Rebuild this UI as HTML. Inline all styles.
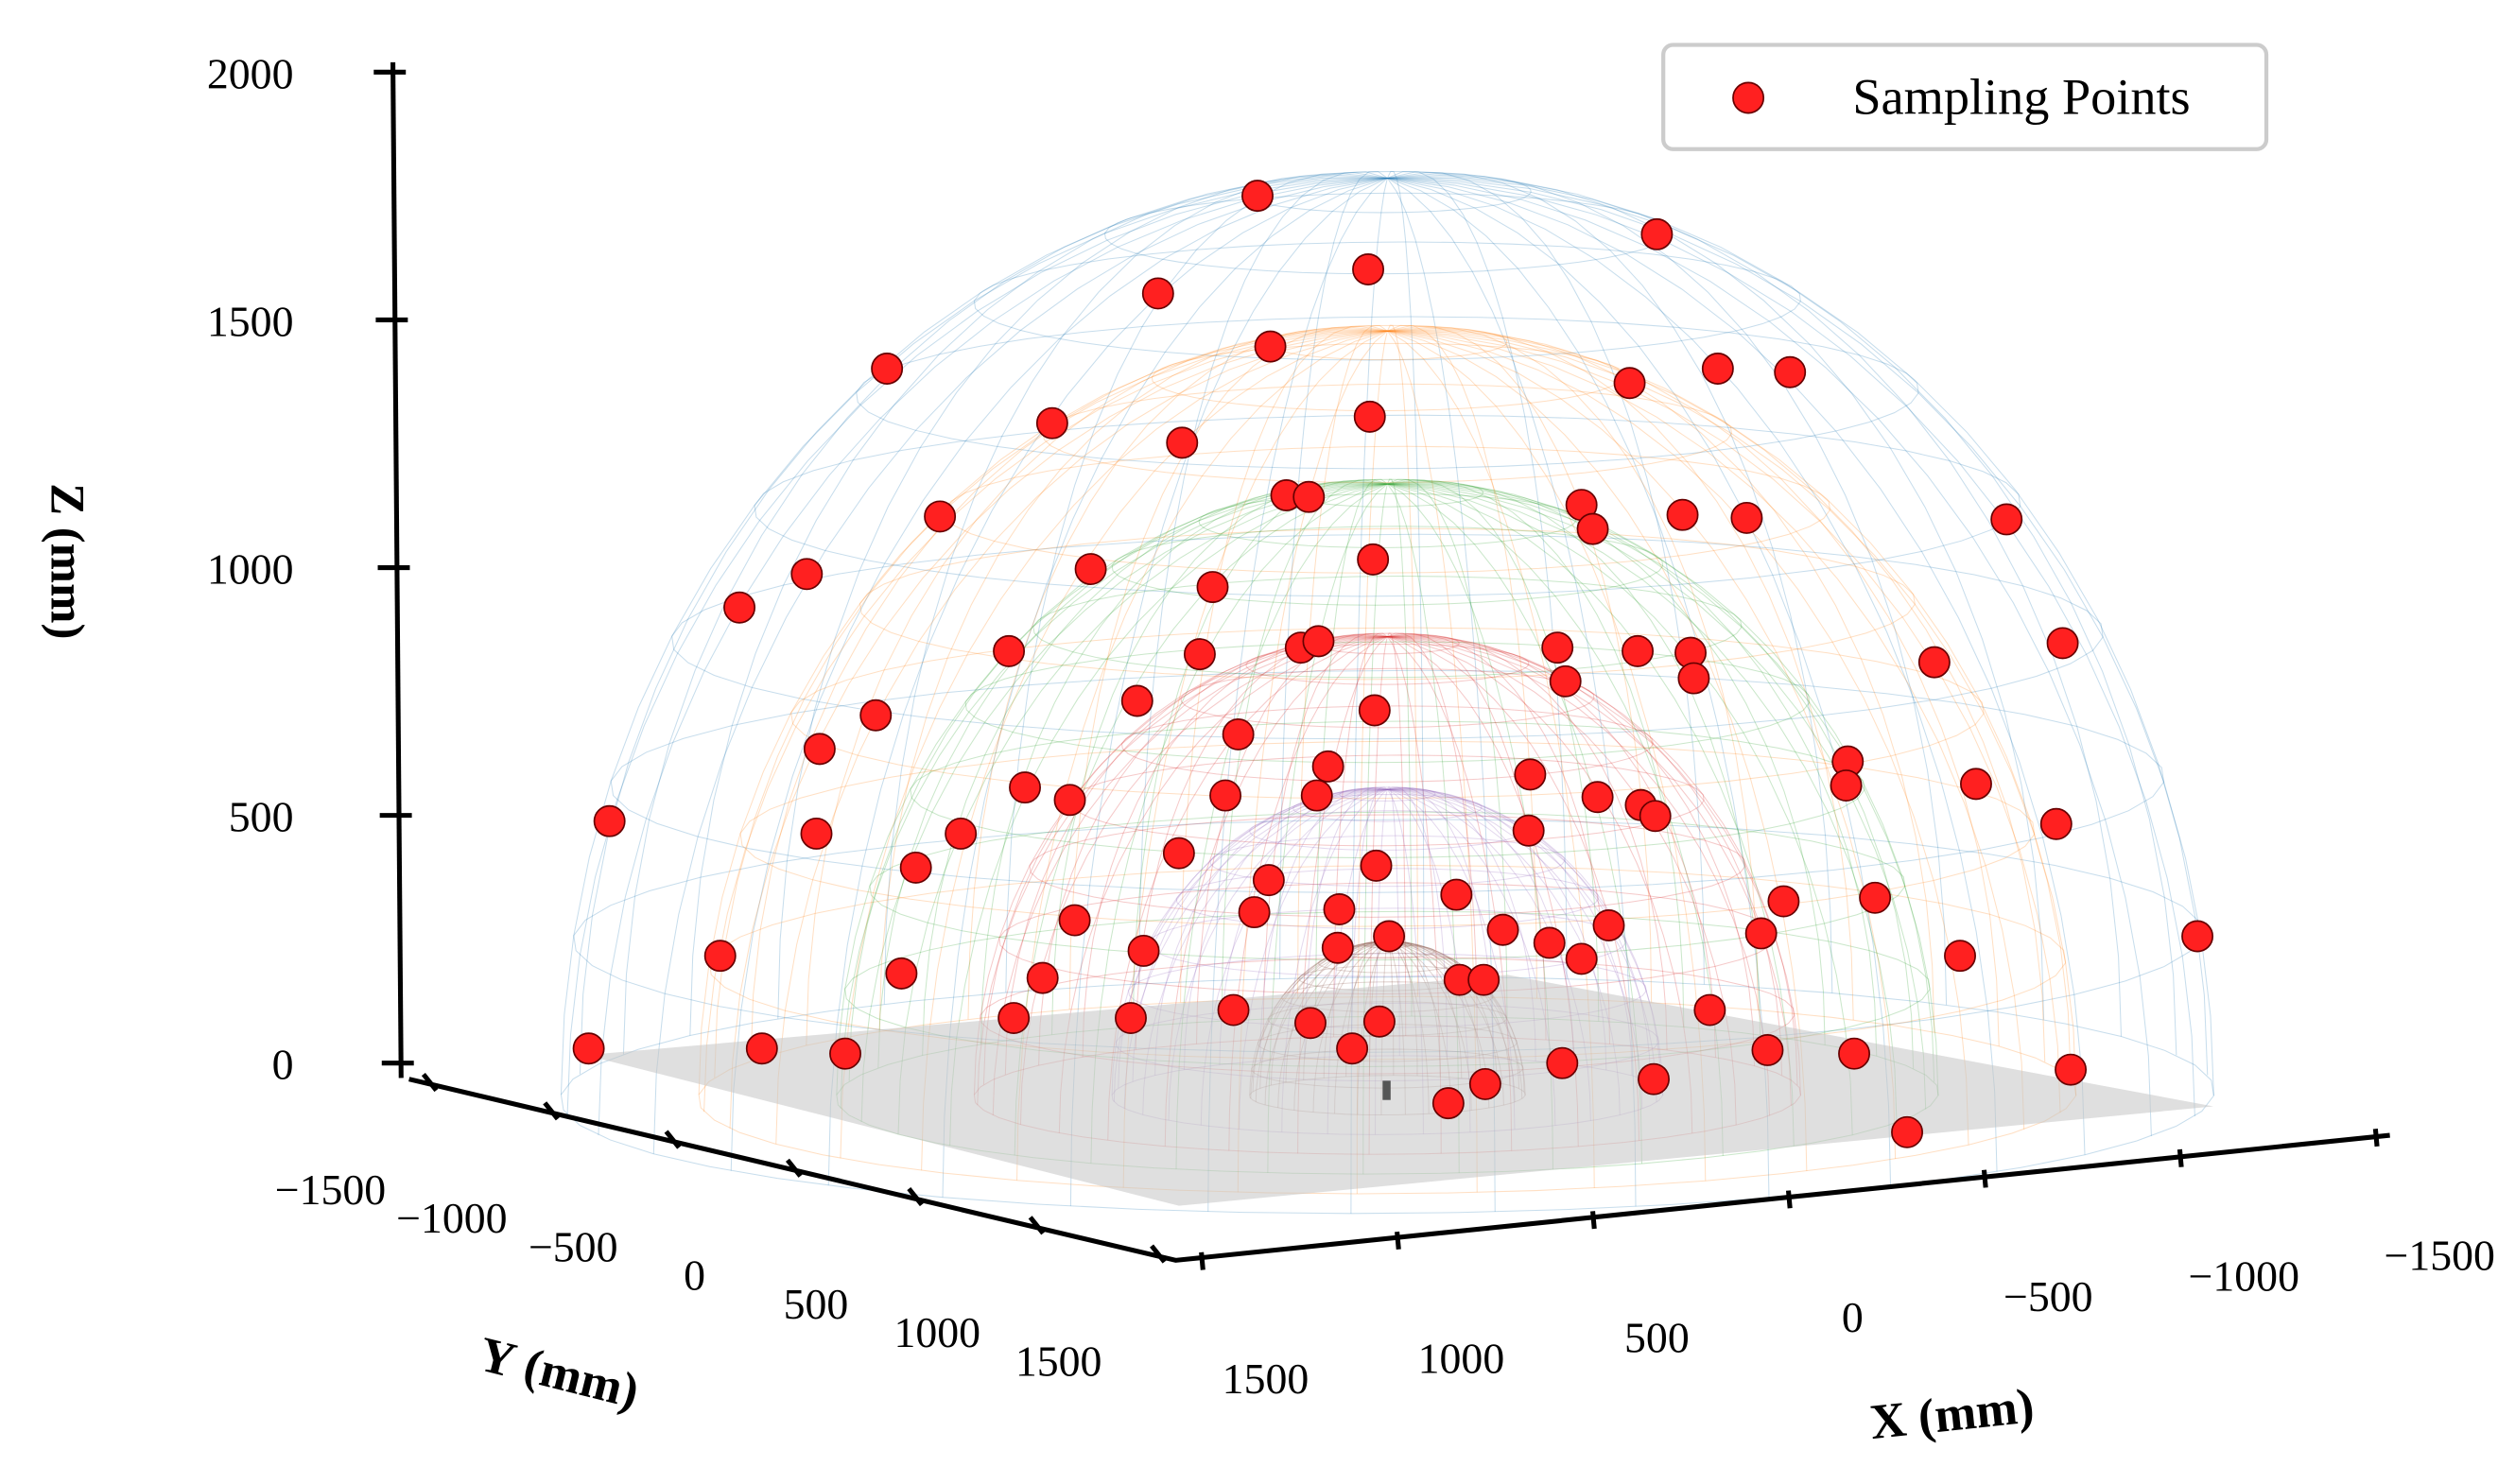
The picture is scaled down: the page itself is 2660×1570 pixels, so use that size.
<!DOCTYPE html>
<html><head><meta charset="utf-8"><style>
html,body{margin:0;padding:0;background:#fff;}
svg{display:block;font-family:"Liberation Serif",serif;}
</style></head><body>
<svg id="chart" width="2660" height="1570" viewBox="0 0 1568 925.5" xmlns="http://www.w3.org/2000/svg">
<g id="wire"></g>
<polygon points="365,658 940,608 1380,690 735,752" fill="#c4c4c4" fill-opacity="0.55"/>
<rect x="862" y="674" width="5" height="12" fill="#555"/>
<g id="axes"></g>
<g id="pts"></g>
<g>
<rect x="1037" y="28" width="376" height="65" rx="6" fill="#fff" fill-opacity="0.85" stroke="#ccc" stroke-width="2.5"/>
<circle cx="1090" cy="61" r="9.5" fill="#ff2020" stroke="#600" stroke-width="1"/>
<text x="1155" y="71" font-size="32">Sampling Points</text>
</g>
<text transform="translate(32,350) rotate(90)" text-anchor="middle" font-size="30" font-weight="bold">Z (mm)</text>
<text transform="translate(346,866) rotate(14)" text-anchor="middle" font-size="31" font-weight="bold">Y (mm)</text>
<text transform="translate(1218,892) rotate(-6)" text-anchor="middle" font-size="31" font-weight="bold">X (mm)</text>
</svg>
<script>
const ptX = [324,-672,48,572,292,1248,-604,-824,-1004,836,44,512,1116,252,196,-484,-512,-736,-896,-1544,1448,740,36,1616,436,944,468,216,172,-424,-624,-756,-764,-444,-1364,-1684,624,32,1276,372,1416,148,-1148,-1144,904,792,404,176,-356,-524,-632,-668,-1468,1940,1424,1064,-352,-1668,520,1176,28,296,-172,-988,-1216,332,120,780,-288,-552,-932,-2020,-4,124,-404,608,-484,1664,1212,860,-180,-240,-1428,-804,384,932,640,192,20,1992,1560,1352,88,-948,-1164,-436,-664,-1704,-244,-152,-1296];
const ptZ = [1795,1718,1648,1600,1494,1450,1421,1450,1443,1341,1354,1302,1155,1197,1194,1178,1130,1158,1152,1149,1040,1050,1069,973,1014,886,880,893,906,893,886,883,832,826,864,902,787,768,758,720,691,656,666,618,614,589,598,598,640,595,579,557,621,547,522,522,528,541,483,454,458,429,400,387,394,365,371,349,330,339,323,317,317,294,304,288,272,278,243,234,230,230,278,170,170,154,154,144,147,93,93,83,93,90,83,64,32,51,22,-16,-74];
const zTicks = [0,500,1000,1500,2000];
const yTicks = [-1500,-1000,-500,0,500,1000,1500];
const xTicks = [1500,1000,500,0,-500,-1000,-1500];
const radii = [1830,1525,1220,915,610,305];
const colors = ['#1f77b4','#ff7f0e','#2ca02c','#d62728','#9467bd','#8c564b'];

const NS='http://www.w3.org/2000/svg';
function mk(tag,attrs,parent){const e=document.createElementNS(NS,tag);for(const k in attrs)e.setAttribute(k,attrs[k]);parent.appendChild(e);return e;}
function P(x,y,z){return [865 - x*0.25 + y*0.13, 683 + x*0.02 + y*0.035 - z*0.3125];}
function ptPos(x,z){return [865 - x*0.25, 683 - z*0.3125];}
function zPos(v){return [250 - v*0.0025, 663 - v*0.309];}
function yPos(v){const t=(v+1500)/3000;return [268 + t*(722-268), 676 + t*(783-676)];}
function xPos(v){const t=(1500-v)/3000;return [749 + t*(1481-749), 786 + t*(709-786)];}

const wire=document.getElementById('wire');
radii.forEach((R,i)=>{
  const g=mk('g',{stroke:colors[i],'stroke-width':0.6,'stroke-opacity':0.25,fill:'none'},wire);
  
  
  for(let a=0;a<36;a++){const th=a*Math.PI/18;let d='';
    for(let e=0;e<=18;e++){const ph=e*Math.PI/36;const p=P(R*Math.cos(ph)*Math.cos(th),R*Math.cos(ph)*Math.sin(th),R*Math.sin(ph));d+=(e?'L':'M')+p[0].toFixed(1)+','+p[1].toFixed(1);}
    const m=mk('path',{d:d},g);
    
    }
  for(let e=0;e<9;e++){const ph=e*Math.PI/18;let d='';
    for(let a=0;a<=48;a++){const th=a*Math.PI/24;const p=P(R*Math.cos(ph)*Math.cos(th),R*Math.cos(ph)*Math.sin(th),R*Math.sin(ph));d+=(a?'L':'M')+p[0].toFixed(1)+','+p[1].toFixed(1);}
    const m=mk('path',{d:d},g);
    
    }
});

const axes=document.getElementById('axes');
const st={stroke:'#000','stroke-width':3,fill:'none'};
let l=mk('line',Object.assign({x1:zPos(-30)[0],y1:zPos(-30)[1],x2:zPos(2020)[0],y2:zPos(2020)[1]},st),axes);


l=mk('polyline',Object.assign({points:'255,673 733,786 1490,708'},st),axes);


zTicks.forEach(v=>{const p=zPos(v);
  const t=mk('line',{x1:p[0]-12,y1:p[1],x2:p[0]+8,y2:p[1],stroke:'#000','stroke-width':3},axes);
  
  
  const tx=mk('text',{x:183,y:p[1]+10,'text-anchor':'end','font-size':27},axes);tx.textContent=v;
  
  });
yTicks.forEach((v,i)=>{const p=yPos(v);
  const t=mk('line',{x1:p[0]-4,y1:p[1]-6,x2:p[0]+4,y2:p[1]+4,stroke:'#000','stroke-width':3},axes);
  
  
  const tx=mk('text',{x:p[0]-62,y:p[1]+75,'text-anchor':'middle','font-size':27},axes);tx.textContent=(v<0?'\u2212'+(-v):v);
  
  });
xTicks.forEach(v=>{const p=xPos(v);
  const t=mk('line',{x1:p[0],y1:p[1]-5,x2:p[0]+1,y2:p[1]+6,stroke:'#000','stroke-width':3},axes);
  
  
  const tx=mk('text',{x:p[0]+40,y:p[1]+83,'text-anchor':'middle','font-size':27},axes);tx.textContent=(v<0?'\u2212'+(-v):v);
  
  });

const pts=document.getElementById('pts');
ptX.forEach((x,i)=>{const p=ptPos(x,ptZ[i]);
  const c=mk('circle',{cx:p[0].toFixed(1),cy:p[1].toFixed(1),r:9.5,fill:'#ff2020',stroke:'#600','stroke-width':1},pts);
  
  });
</script>
</body></html>
